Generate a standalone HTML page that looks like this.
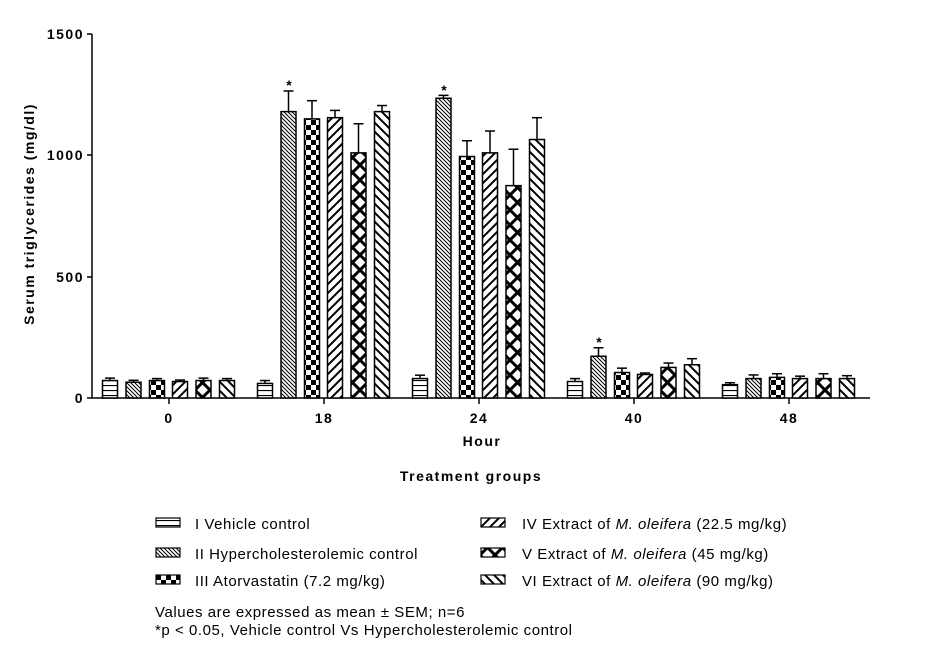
<!DOCTYPE html>
<html><head><meta charset="utf-8"><style>
body{margin:0;background:#fff}
svg{display:block}
text{font-family:"Liberation Sans",Arial,sans-serif}
</style></head><body>
<svg width="926" height="656" viewBox="0 0 926 656" xmlns="http://www.w3.org/2000/svg">
<defs>
<pattern id="p1" patternUnits="userSpaceOnUse" width="8" height="5"><rect width="8" height="5" fill="#fff"/><line x1="0" y1="0.5" x2="8" y2="0.5" stroke="#000" stroke-width="1.2"/></pattern>
<pattern id="p2" patternUnits="userSpaceOnUse" width="4" height="4"><rect width="4" height="4" fill="#fff"/><path d="M-1,-1 L5,5 M-1,3 L1,5 M3,-1 L5,1" stroke="#000" stroke-width="1"/></pattern>
<pattern id="p3" patternUnits="userSpaceOnUse" width="10" height="10" x="1"><rect width="10" height="10" fill="#fff"/><rect width="5" height="5" fill="#000"/><rect x="5" y="5" width="5" height="5" fill="#000"/></pattern>
<pattern id="p4" patternUnits="userSpaceOnUse" width="9" height="9"><rect width="9" height="9" fill="#fff"/><path d="M-1,10 L10,-1 M-3,3 L3,-3 M6,12 L12,6" stroke="#000" stroke-width="2"/></pattern>
<pattern id="p5" patternUnits="userSpaceOnUse" width="15" height="15"><rect width="15" height="15" fill="#fff"/><path d="M0,0 L15,15 M15,0 L0,15" stroke="#000" stroke-width="3"/></pattern>
<pattern id="p6" patternUnits="userSpaceOnUse" width="9" height="9"><rect width="9" height="9" fill="#fff"/><path d="M-1,-1 L10,10 M-3,6 L3,12 M6,-3 L12,3" stroke="#000" stroke-width="2"/></pattern>
</defs>
<g stroke="#000" stroke-width="1.5" fill="none">
<line x1="92" y1="34" x2="92" y2="398"/>
<line x1="92" y1="398" x2="870" y2="398"/>
<line x1="87" y1="34" x2="92" y2="34"/><line x1="87" y1="155" x2="92" y2="155"/><line x1="87" y1="277" x2="92" y2="277"/><line x1="87" y1="398" x2="92" y2="398"/>
<line x1="169" y1="398" x2="169" y2="404"/><line x1="324" y1="398" x2="324" y2="404"/><line x1="479" y1="398" x2="479" y2="404"/><line x1="634" y1="398" x2="634" y2="404"/><line x1="789" y1="398" x2="789" y2="404"/>
</g>
<g font-size="14" font-weight="bold" text-anchor="end" letter-spacing="1.5">
<text x="84" y="39">1500</text><text x="84" y="160">1000</text><text x="84" y="282">500</text><text x="84" y="403">0</text>
</g>
<g font-size="14" font-weight="bold" text-anchor="middle" letter-spacing="1.5">
<text x="169" y="423">0</text><text x="324" y="423">18</text><text x="479" y="423">24</text><text x="634" y="423">40</text><text x="789" y="423">48</text>
<text x="482" y="446">Hour</text>
<text x="471" y="481">Treatment groups</text>
<text transform="translate(34,214) rotate(-90)">Serum triglycerides (mg/dl)</text>
</g>
<g id="bars" stroke="#000" stroke-width="1.5"></g>
<g font-size="14" font-weight="bold" text-anchor="middle">
<text x="289" y="90">*</text><text x="444" y="95">*</text><text x="599" y="347">*</text>
</g>
<g stroke="#000" stroke-width="1.2">
<rect x="156" y="518" width="24" height="9" fill="url(#p1)"/>
<rect x="156" y="548" width="24" height="9" fill="url(#p2)"/>
<rect x="156" y="575" width="24" height="9" fill="url(#p3)"/>
<rect x="481" y="518" width="24" height="9" fill="url(#p4)"/>
<rect x="481" y="548" width="24" height="9" fill="url(#p5)"/>
<rect x="481" y="575" width="24" height="9" fill="url(#p6)"/>
</g>
<g font-size="15" letter-spacing="0.55">
<text x="195" y="529">I Vehicle control</text>
<text x="195" y="559">II Hypercholesterolemic control</text>
<text x="195" y="586">III Atorvastatin (7.2 mg/kg)</text>
<text x="522" y="529">IV Extract of <tspan font-style="italic">M. oleifera</tspan> (22.5 mg/kg)</text>
<text x="522" y="559">V Extract of <tspan font-style="italic">M. oleifera</tspan> (45 mg/kg)</text>
<text x="522" y="586">VI Extract of  <tspan font-style="italic">M. oleifera</tspan> (90 mg/kg)</text>
<text x="155" y="617">Values are expressed as mean ± SEM; n=6</text>
<text x="155" y="635">*p &lt; 0.05, Vehicle control Vs Hypercholesterolemic control</text>
</g>
</svg>
<script>
var d=[[[72,10],[65,8],[72,8],[68,6],[72,10],[72,8]],
[[60,12],[1180,85],[1150,75],[1155,30],[1010,120],[1180,25]],
[[80,14],[1235,12],[995,65],[1010,90],[875,150],[1065,90]],
[[68,12],[172,35],[105,18],[97,6],[126,18],[137,25]],
[[55,8],[80,15],[85,15],[80,10],[80,20],[80,12]]];
var ticks=[169,324,479,634,789],off=[-59,-35.5,-12,11,34.5,58];
var g=document.getElementById('bars'),h='';
for(var i=0;i<5;i++)for(var j=0;j<6;j++){
 var v=d[i][j][0],e=d[i][j][1],cx=ticks[i]+off[j];
 var y=398-v*0.2427,ye=398-(v+e)*0.2427;
 h+='<rect x="'+(cx-7.5)+'" y="'+y+'" width="15" height="'+(398-y)+'" fill="url(#p'+(j+1)+')"/>';
 h+='<line x1="'+cx+'" y1="'+y+'" x2="'+cx+'" y2="'+ye+'" stroke-width="1.5"/>';
 h+='<line x1="'+(cx-5)+'" y1="'+ye+'" x2="'+(cx+5)+'" y2="'+ye+'" stroke-width="1.5"/>';
}
g.innerHTML=h;
</script>
</body></html>
